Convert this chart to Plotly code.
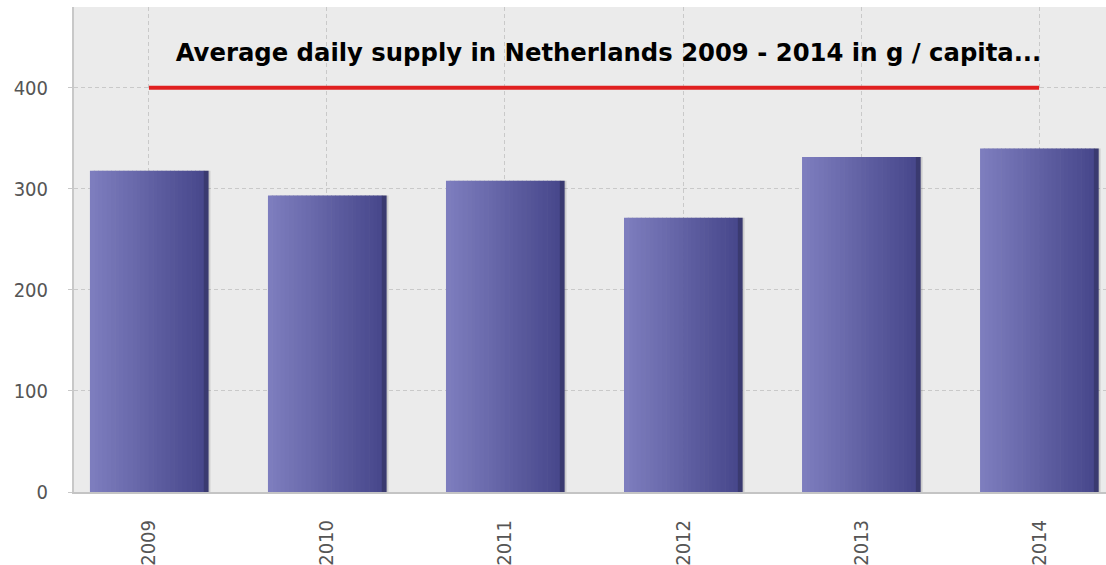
import plotly.graph_objects as go

# values
years = ["2009", "2010", "2011", "2012", "2013", "2014"]
supply = [318, 293.5, 308, 271.5, 331.5, 340]
title_text = "Average daily supply in Netherlands 2009 - 2014 in g / capita..."
ref_value = 400

# bar gradient is faked with thin side-by-side strips
bar_w = 0.663
n_strips = 28
c_left = (125, 125, 190)
c_right = (70, 70, 138)

fig = go.Figure()

# soft shadow behind each bar
fig.add_trace(go.Bar(x=years, y=supply, width=bar_w, offset=-bar_w / 2 + 0.014,
                     marker=dict(color="rgba(0,0,0,0.13)", line_width=0),
                     hoverinfo="skip", showlegend=False))

sw = bar_w / n_strips
for i in range(n_strips):
    t = i / (n_strips - 1)
    r, g, b = [round(a + (c - a) * t) for a, c in zip(c_left, c_right)]
    if i == n_strips - 1:
        r, g, b = 58, 58, 112
    fig.add_trace(go.Bar(x=years, y=supply, width=sw * 1.15, offset=-bar_w / 2 + i * sw,
                         marker=dict(color=f"rgb({r},{g},{b})", line_width=0),
                         hoverinfo="skip", showlegend=False))

# red line under the title
fig.add_trace(go.Scatter(x=[years[0], years[-1]], y=[ref_value, ref_value], mode="lines",
                         line=dict(color="#E02020", width=4),
                         hoverinfo="skip", showlegend=False))

tick_font = "DejaVu Sans Condensed, DejaVu Sans"

fig.update_layout(
    barmode="overlay",
    width=1106, height=565,
    margin=dict(l=74, r=0, t=7, b=73),
    paper_bgcolor="white",
    plot_bgcolor="#EBEBEB",
    font=dict(family=tick_font, color="#505050", size=20),
    title=dict(text="<b>" + title_text + "</b>", x=608.5 / 1106, xref="container", xanchor="center",
               y=1 - 52 / 565, yanchor="middle",
               font=dict(family="DejaVu Sans", size=24.3, color="black")),
    showlegend=False,
)

fig.update_xaxes(type="category", range=[-0.421, 5.376],
                 showgrid=True, gridcolor="#C9C9C9", griddash="4px,3px", gridwidth=1,
                 showline=True, linecolor="#C4C4C4", linewidth=2,
                 tickangle=-90, ticks="", ticklabelstandoff=18,
                 tickfont=dict(family=tick_font, size=20, color="#555555"))
fig.update_yaxes(range=[0, 480], dtick=100, tick0=0,
                 showgrid=True, gridcolor="#C9C9C9", griddash="4px,3px", gridwidth=1,
                 showline=True, linecolor="#C8C8C8", linewidth=2,
                 ticks="outside", ticklen=4, tickcolor="#C8C8C8",
                 zeroline=False, ticklabelstandoff=16,
                 tickfont=dict(family=tick_font, size=20, color="#555555"))

# drop the page's default body margin so the figure sits at the window's top-left
fig.write_html("out.html", config={"displayModeBar": False},
               post_script="document.body.style.margin='0';")
